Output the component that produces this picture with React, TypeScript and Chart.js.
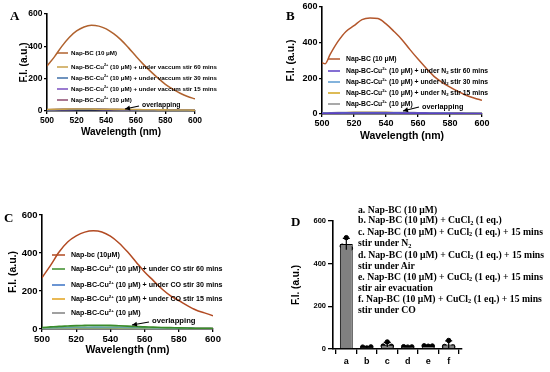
import React, { useEffect, useRef } from "react";
import { Chart, registerables } from "chart.js";
Chart.register(...registerables);

const FONT = "'Liberation Sans', Arial, sans-serif";
const SERIF = "'Liberation Serif', 'Times New Roman', serif";

// ---------- Panel A ----------
const wavelengthsA = [500, 505, 510, 515, 520, 525, 530, 535, 540, 545, 550, 555, 560, 565, 570, 575, 580, 585, 590, 595, 600];
const napBC_A = [278, 335, 400, 455, 495, 520, 530, 525, 508, 478, 440, 392, 340, 290, 245, 203, 165, 135, 110, 90, 75];
const vac60_A = [9, 10, 11, 12, 12, 12, 12, 11, 11, 10, 10, 9, 9, 8, 8, 7, 7, 6, 6, 6, 5];
const vac30_A = [7, 8, 9, 9, 10, 10, 10, 10, 9, 9, 8, 8, 7, 7, 6, 6, 6, 5, 5, 5, 4];
const vac15_A = [6, 7, 8, 8, 9, 9, 9, 9, 8, 8, 7, 7, 7, 6, 6, 5, 5, 5, 4, 4, 4];
const cu_A = [8, 9, 10, 10, 11, 11, 11, 10, 10, 9, 9, 8, 8, 7, 7, 6, 6, 6, 5, 5, 5];
const labelsA = [
  "Nap-BC (10 μM)",
  "Nap-BC-Cu^{2+} (10 μM) + under vaccum stir 60 mins",
  "Nap-BC-Cu^{2+} (10 μM) + under vaccum stir 30 mins",
  "Nap-BC-Cu^{2+} (10 μM) + under vaccum stir 15 mins",
  "Nap-BC-Cu^{2+} (10 μM)",
];
const colorsA = ["#b0622e", "#c9a04a", "#3f6fa8", "#7a4fc0", "#8c4a6e"];

// ---------- Panel B ----------
const wavelengthsB = [500, 502, 505, 510, 515, 520, 525, 530, 535, 540, 545, 550, 555, 560, 565, 570, 575, 580, 585, 590, 595, 600];
const napBC_B = [288, 282, 333, 407, 463, 495, 529, 538, 535, 505, 463, 417, 361, 308, 258, 211, 178, 151, 127, 105, 90, 77];
const n60_B = [4, 4, 5, 5, 6, 6, 6, 6, 6, 6, 6, 5, 5, 5, 5, 4, 4, 4, 4, 3, 3, 3];
const n30_B = [5, 5, 6, 6, 7, 7, 7, 7, 7, 7, 7, 6, 6, 6, 5, 5, 5, 5, 4, 4, 4, 3];
const n15_B = [5, 5, 6, 7, 7, 8, 8, 8, 8, 8, 7, 7, 7, 6, 6, 6, 5, 5, 5, 4, 4, 4];
const cu_B = [6, 6, 7, 8, 8, 9, 9, 9, 9, 9, 8, 8, 8, 7, 7, 6, 6, 6, 5, 5, 5, 4];
const labelsB = [
  "Nap-BC (10 μM)",
  "Nap-BC-Cu^{2+} (10 μM) + under N_{2} stir 60 mins",
  "Nap-BC-Cu^{2+} (10 μM) + under N_{2} stir 30 mins",
  "Nap-BC-Cu^{2+} (10 μM) + under N_{2} stir 15 mins",
  "Nap-BC-Cu^{2+} (10 μM)",
];
const colorsB = ["#b3562b", "#5b3fc4", "#5a9ad0", "#d2a41e", "#8c8c8c"];

// ---------- Panel C ----------
const wavelengthsC = [500, 505, 510, 515, 520, 525, 530, 535, 540, 545, 550, 555, 560, 565, 570, 575, 580, 585, 590, 595, 600];
const napBC_C = [270, 335, 405, 458, 490, 510, 517, 511, 489, 453, 406, 353, 300, 256, 212, 176, 150, 123, 100, 85, 70];
const co60_C = [8, 11, 14, 16, 18, 19, 20, 20, 19, 17, 15, 13, 11, 10, 8, 7, 6, 5, 4, 4, 3];
const co30_C = [5, 6, 7, 8, 9, 9, 10, 10, 9, 9, 8, 7, 7, 6, 5, 5, 4, 4, 3, 3, 3];
const co15_C = [4, 5, 6, 7, 7, 8, 8, 8, 8, 7, 7, 6, 6, 5, 5, 4, 4, 3, 3, 3, 2];
const cu_C = [3, 4, 5, 5, 6, 6, 6, 6, 6, 6, 5, 5, 5, 4, 4, 4, 3, 3, 3, 2, 2];
const labelsC = [
  "Nap-bc (10μM)",
  "Nap-BC-Cu^{2+} (10 μM) + under CO stir 60 mins",
  "Nap-BC-Cu^{2+} (10 μM) + under CO stir 30 mins",
  "Nap-BC-Cu^{2+} (10 μM) + under CO stir 15 mins",
  "Nap-BC-Cu^{2+} (10 μM)",
];
const colorsC = ["#b24a22", "#3b8c2a", "#3a72c4", "#e2a21c", "#808080"];

// ---------- Panel D ----------
const categoriesD = ["a", "b", "c", "d", "e", "f"];
const meansD = [492, 8, 20, 10, 14, 21];
const sdD = [27, 3, 11, 1, 1, 17];
const repsD = [
  [522, 482, 472],
  [5, 9, 10],
  [33, 14, 13],
  [9, 11, 10],
  [13, 15, 14],
  [40, 12, 10],
];
const legendD = [
  ["a. Nap-BC (10 μM)"],
  ["b. Nap-BC (10 μM) + CuCl", "2", " (1 eq.)"],
  ["c. Nap-BC (10 μM) + CuCl", "2", " (1 eq.) + 15 mins"],
  ["stir under N", "2"],
  ["d. Nap-BC (10 μM) + CuCl", "2", " (1 eq.) + 15 mins"],
  ["stir under Air"],
  ["e. Nap-BC (10 μM) + CuCl", "2", " (1 eq.) + 15 mins"],
  ["stir air evacuation"],
  ["f. Nap-BC (10 μM) + CuCl", "2", " (1 eq.) + 15 mins"],
  ["stir under CO"],
];

const yTicks = [0, 200, 400, 600];

function drawRich(ctx: CanvasRenderingContext2D, text: string, x: number, y: number, size: number) {
  const parts = text.split(/(\^\{[^}]*\}|_\{[^}]*\})/).filter(Boolean);
  let cx = x;
  for (const p of parts) {
    let t = p;
    let s = size;
    let dy = 0;
    if (p.startsWith("^{")) {
      t = p.slice(2, -1);
      s = size * 0.62;
      dy = -size * 0.38;
    } else if (p.startsWith("_{")) {
      t = p.slice(2, -1);
      s = size * 0.62;
      dy = size * 0.25;
    }
    ctx.font = `bold ${s}px ${FONT}`;
    ctx.fillText(t, cx, y + dy);
    cx += ctx.measureText(t).width;
  }
}

function makeLegendPlugin(p: any) {
  return {
    id: "inlineLegend" + p.key,
    afterDatasetsDraw(chart: any) {
      const ctx: CanvasRenderingContext2D = chart.ctx;
      ctx.save();
      ctx.textBaseline = "middle";
      ctx.textAlign = "left";
      ctx.fillStyle = "#000";
      p.labels.forEach((lab: string, i: number) => {
        const y = p.legend.rows[i];
        ctx.strokeStyle = p.colors[i];
        ctx.lineWidth = 1.5;
        ctx.beginPath();
        ctx.moveTo(p.legend.swatch[0], y);
        ctx.lineTo(p.legend.swatch[1], y);
        ctx.stroke();
        ctx.fillStyle = "#000";
        drawRich(ctx, lab, p.legend.textX, y, p.legend.size);
      });
      const n = p.note;
      ctx.font = `bold ${n.size}px ${FONT}`;
      ctx.fillStyle = "#000";
      ctx.fillText("overlapping", n.text[0], n.text[1]);
      ctx.strokeStyle = "#000";
      ctx.lineWidth = 1.2;
      ctx.beginPath();
      ctx.moveTo(n.from[0], n.from[1]);
      ctx.lineTo(n.to[0], n.to[1]);
      ctx.stroke();
      const ang = Math.atan2(n.to[1] - n.from[1], n.to[0] - n.from[0]);
      const L = 5, W = 2.5;
      ctx.beginPath();
      ctx.moveTo(n.to[0], n.to[1]);
      ctx.lineTo(n.to[0] - L * Math.cos(ang) + W * Math.sin(ang), n.to[1] - L * Math.sin(ang) - W * Math.cos(ang));
      ctx.lineTo(n.to[0] - L * Math.cos(ang) - W * Math.sin(ang), n.to[1] - L * Math.sin(ang) + W * Math.cos(ang));
      ctx.closePath();
      ctx.fill();
      ctx.restore();
    },
  };
}

function axisBase(tickSize: number, tickLen: number, pad: number) {
  return {
    ticks: { font: { size: tickSize, weight: "bold", family: FONT }, color: "#000", padding: pad, maxRotation: 0, autoSkip: false },
    grid: { display: true, drawOnChartArea: false, drawTicks: true, tickLength: tickLen, color: "#000", lineWidth: 1.3 },
    border: { display: true, color: "#000", width: 1.6 },
  };
}

function lineConfig(p: any) {
  const base = axisBase(p.tickSize, 3, 1.5);
  return {
    type: "line",
    data: {
      datasets: p.series.map((s: number[], i: number) => ({
        label: p.labels[i],
        data: p.x.map((x: number, k: number) => ({ x, y: s[k] })),
        borderColor: p.colors[i],
        backgroundColor: p.fills && p.fills[i] ? p.fills[i] : p.colors[i],
        fill: p.fills && p.fills[i] ? "origin" : false,
        borderWidth: i === 0 ? 1.5 : 1.6,
        pointRadius: 0,
        cubicInterpolationMode: "monotone",
      })),
    },
    options: {
      responsive: false,
      animation: false,
      events: [],
      layout: { padding: { left: p.padL, top: p.padT, right: p.padR, bottom: 0 } },
      plugins: { legend: { display: false }, tooltip: { enabled: false } },
      scales: {
        x: {
          type: "linear",
          min: 500,
          max: 600,
          ...base,
          ticks: { ...base.ticks, stepSize: 20 },
          title: { display: true, text: "Wavelength (nm)", font: { size: p.titleSize, weight: "bold", family: FONT }, color: "#000", padding: 0 },
          afterFit: (s: any) => { s.height = p.xH; },
        },
        y: {
          type: "linear",
          min: 0,
          max: 600,
          ...base,
          afterBuildTicks: (s: any) => { s.ticks = yTicks.map((v) => ({ value: v })); },
          title: { display: true, text: "F.I. (a.u.)", font: { size: p.titleSize, weight: "bold", family: FONT }, color: "#000", padding: 0 },
          afterFit: (s: any) => { s.width = p.yW; },
        },
      },
    },
    plugins: [makeLegendPlugin(p)],
  };
}

const errorBarPlugin = {
  id: "errorBars",
  afterDatasetDraw(chart: any, args: any) {
    if (args.index !== 0) return;
    const ctx: CanvasRenderingContext2D = chart.ctx;
    const xs = chart.scales.x, ys = chart.scales.y;
    ctx.save();
    ctx.strokeStyle = "#000";
    ctx.lineWidth = 1.2;
    meansD.forEach((m, i) => {
      const x = xs.getPixelForValue(i);
      const yT = ys.getPixelForValue(m + sdD[i]);
      const yB = ys.getPixelForValue(Math.max(0, m - sdD[i]));
      ctx.beginPath();
      ctx.moveTo(x, yB);
      ctx.lineTo(x, yT);
      ctx.moveTo(x - 3.5, yT);
      ctx.lineTo(x + 3.5, yT);
      ctx.stroke();
    });
    ctx.restore();
  },
};

function barConfig() {
  const base = axisBase(7.5, 5, 2);
  const jitter = [0, -0.2, 0.2];
  return {
    type: "bar",
    data: {
      datasets: [
        {
          type: "bar",
          data: meansD.map((m, i) => ({ x: i, y: m })),
          backgroundColor: "#808080",
          borderColor: "#000",
          borderWidth: 1,
          barPercentage: 0.63,
          categoryPercentage: 1,
        },
        {
          type: "scatter",
          data: repsD.flatMap((r, i) => r.map((v, j) => ({ x: i + jitter[j], y: v }))),
          backgroundColor: "#000",
          borderColor: "#000",
          pointRadius: 2.2,
        },
      ],
    },
    options: {
      responsive: false,
      animation: false,
      events: [],
      layout: { padding: { left: 15.6, top: 35, right: 88, bottom: 0 } },
      plugins: { legend: { display: false }, tooltip: { enabled: false } },
      scales: {
        x: {
          type: "linear",
          min: -0.65,
          max: 5.65,
          offset: false,
          ...base,
          ticks: { ...base.ticks, font: { size: 9, weight: "bold", family: FONT }, callback: (v: number) => categoriesD[v] },
          afterBuildTicks: (s: any) => { s.ticks = categoriesD.map((_, i) => ({ value: i })); },
          afterFit: (s: any) => { s.height = 23; },
        },
        y: {
          type: "linear",
          min: 0,
          max: 600,
          ...base,
          afterBuildTicks: (s: any) => { s.ticks = yTicks.map((v) => ({ value: v })); },
          title: { display: true, text: "F.I. (a.u.)", font: { size: 10, weight: "bold", family: FONT }, color: "#000", padding: 0 },
          afterFit: (s: any) => { s.width = 42.4; },
        },
      },
    },
    plugins: [errorBarPlugin],
  };
}

const panelA = {
  key: "A", x: wavelengthsA, series: [napBC_A, vac60_A, vac30_A, vac15_A, cu_A], labels: labelsA, colors: colorsA,
  tickSize: 8.5, titleSize: 10, padL: 18, padT: 14, padR: 45, yW: 29, xH: 27,
  legend: { swatch: [57, 68], textX: 71, rows: [53, 67, 78, 89, 100], size: 6.2 },
  note: { size: 6.8, text: [142, 105], from: [139, 106], to: [125, 109] },
};
const panelB = {
  key: "B", x: wavelengthsB, series: [napBC_B, n60_B, n30_B, n15_B, cu_B], labels: labelsB, colors: colorsB,
  tickSize: 9, titleSize: 10.5, padL: 10, padT: 7, padR: 68, yW: 37, xH: 28,
  legend: { swatch: [53, 65], textX: 71, rows: [59, 71, 82, 93, 104], size: 6.8 },
  note: { size: 7.3, text: [147, 107], from: [144, 107], to: [128, 111] },
};
const panelC = {
  key: "C", x: wavelengthsC, series: [napBC_C, co60_C, co30_C, co15_C, cu_C], labels: labelsC, colors: colorsC,
  fills: [null, "rgba(140,205,140,0.55)", null, null, null],
  tickSize: 9.5, titleSize: 10.5, padL: 7, padT: 29, padR: 27, yW: 35, xH: 27,
  legend: { swatch: [52, 65], textX: 71, rows: [69, 83, 99, 113, 127], size: 7.1 },
  note: { size: 7.7, text: [152, 135], from: [149, 136], to: [132, 139] },
};

function ChartBox({ left, top, width, height, make }: { left: number; top: number; width: number; height: number; make: () => any }) {
  const ref = useRef<HTMLCanvasElement>(null);
  useEffect(() => {
    const c = new Chart(ref.current as HTMLCanvasElement, make());
    return () => c.destroy();
  }, []);
  return <canvas ref={ref} width={width} height={height} style={{ position: "absolute", left, top, width, height }} />;
}

const letterStyle: React.CSSProperties = { position: "absolute", fontFamily: SERIF, fontWeight: "bold", fontSize: 13, lineHeight: "13px", color: "#000" };

export default function App() {
  return (
    <div style={{ position: "fixed", left: 0, top: 0, width: 550, height: 372, background: "#fff", overflow: "hidden" }}>
      <ChartBox left={0} top={0} width={240} height={138} make={() => lineConfig(panelA)} />
      <ChartBox left={275} top={0} width={275} height={142} make={() => lineConfig(panelB)} />
      <ChartBox left={0} top={186} width={240} height={170} make={() => lineConfig(panelC)} />
      <ChartBox left={275} top={186} width={275} height={186} make={barConfig} />
      <div style={{ ...letterStyle, left: 10, top: 9 }}>A</div>
      <div style={{ ...letterStyle, left: 286, top: 9 }}>B</div>
      <div style={{ ...letterStyle, left: 4, top: 211 }}>C</div>
      <div style={{ ...letterStyle, left: 291, top: 215 }}>D</div>
      <div style={{ position: "absolute", left: 358, top: 204.5, fontFamily: SERIF, fontWeight: "bold", fontSize: 9.7, lineHeight: "10.5px", color: "#000", whiteSpace: "nowrap" }}>
        {legendD.map((parts, i) => (
          <div key={i}>
            {parts.map((t, j) =>
              j === 1 ? (
                <span key={j} style={{ fontSize: "0.65em", position: "relative", top: "0.25em" }}>{t}</span>
              ) : (
                <span key={j}>{t}</span>
              )
            )}
          </div>
        ))}
      </div>
    </div>
  );
}
